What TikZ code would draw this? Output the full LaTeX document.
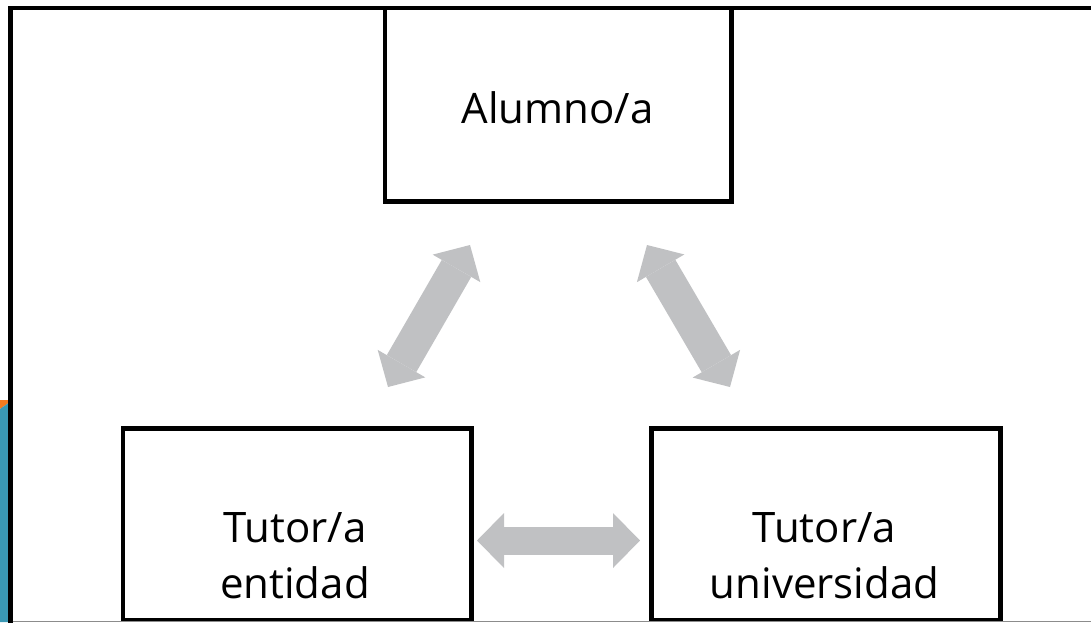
\documentclass[tikz,border=0pt]{standalone}
\usepackage{fontspec}
\setmainfont{Open Sans}
\usetikzlibrary{arrows.meta}
\definecolor{arrowgray}{HTML}{C0C1C3}
\definecolor{stripteal}{HTML}{3A98B4}
\definecolor{striporange}{HTML}{F47B20}
\definecolor{edgegray}{HTML}{8C8C8C}
\tikzset{
  boxnode/.style={draw=black, line width=4.8pt, rectangle, inner sep=0pt},
  lbl/.style={inner sep=0pt, font=\fontsize{42}{56}\selectfont, align=center},
  bigarrow/.style={draw=arrowgray, line width=#1,
    {Triangle[width=55pt,length=27pt,line width=0pt]}-{Triangle[width=55pt,length=27pt,line width=0pt]}},
  frameline/.style={draw=black, line width=4.8pt}
}
\begin{document}
\begin{tikzpicture}[x=1pt,y=-1pt]
\useasboundingbox (0,0) rectangle (1091,622);
% side strip
\fill[striporange] (0,400) -- (8.5,400) -- (8.5,403) -- (0,409) -- cycle;
\fill[stripteal] (0,409) -- (8.5,403) -- (8.5,622) -- (0,622) -- cycle;
% boxes
\node[boxnode, minimum width=346.7pt, minimum height=193.7pt] (al) at (558.35,104.85) {};
\node[boxnode, minimum width=348.7pt, minimum height=191.7pt] (ent) at (297.35,524.15) {};
\node[boxnode, minimum width=349.1pt, minimum height=191.7pt] (uni) at (826.25,524.15) {};
% frame
\coordinate (ftr) at (1096,8);
\coordinate (ftl) at (10.5,8);
\coordinate (fbl) at (10.5,626);
\draw[frameline] (ftr) -- (ftl) -- (fbl);
\coordinate (gl) at (12.5,621.3);
\coordinate (gr) at (1091,621.3);
\draw[edgegray, line width=1pt] (gl) -- (gr);
% labels
\node[lbl, anchor=base] (tal) at (557.5,123) {Alumno/a};
\node[lbl, anchor=base] (tent) at (295,598) {Tutor/a\\entidad};
\node[lbl, anchor=base] (tuni) at (824.5,598) {Tutor/a\\universidad};
% arrows
\coordinate (a1) at (388,387);
\coordinate (a2) at (470,245);
\coordinate (b1) at (647,245);
\coordinate (b2) at (730,387);
\coordinate (c1) at (477,540.5);
\coordinate (c2) at (640,540.5);
\draw[bigarrow=34pt] (a1) -- (a2);
\draw[bigarrow=34pt] (b1) -- (b2);
\draw[bigarrow=28pt] (c1) -- (c2);
\end{tikzpicture}
\end{document}
